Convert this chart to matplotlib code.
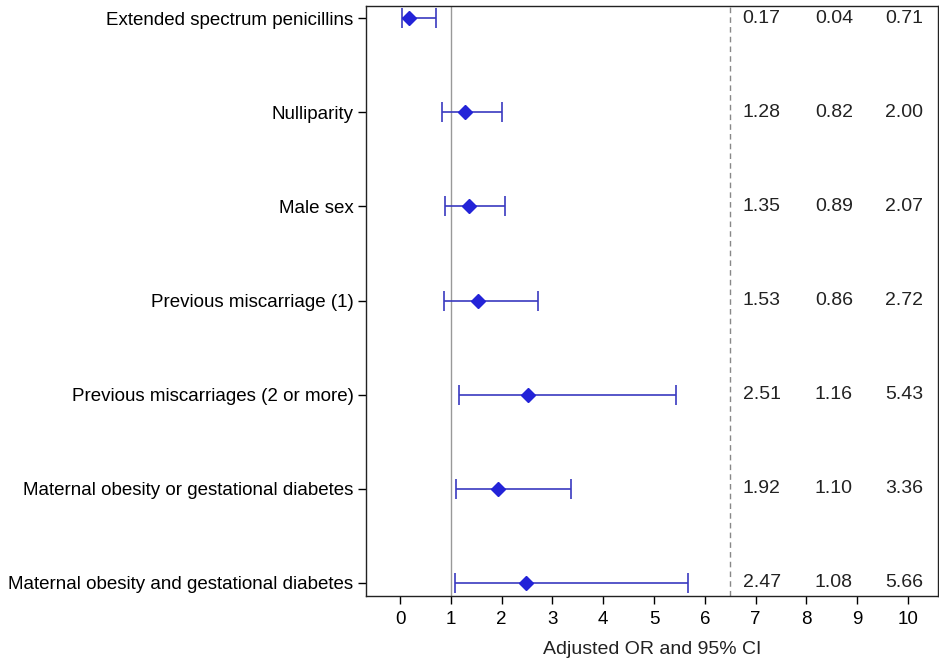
import matplotlib.pyplot as plt

plt.rcParams['font.family'] = ['Liberation Sans', 'DejaVu Sans']

labels = ["Extended spectrum penicillins", "Nulliparity", "Male sex",
          "Previous miscarriage (1)", "Previous miscarriages (2 or more)",
          "Maternal obesity or gestational diabetes",
          "Maternal obesity and gestational diabetes"]
odds = [0.17, 1.28, 1.35, 1.53, 2.51, 1.92, 2.47]
lower = [0.04, 0.82, 0.89, 0.86, 1.16, 1.10, 1.08]
upper = [0.71, 2.00, 2.07, 2.72, 5.43, 3.36, 5.66]

fig = plt.figure(figsize=(9.39, 6.66), dpi=100)
ax = fig.add_axes([0.3898, 0.105, 0.6091, 0.886])

ypos = list(range(len(labels)))
err = [[o - l for o, l in zip(odds, lower)], [u - o for o, u in zip(odds, upper)]]

ax.axvline(1, color="#999999", lw=1, zorder=1)
ax.axvline(6.5, color="#888888", lw=1, ls=(0, (4, 3)), zorder=1)

ax.errorbar(odds, ypos, xerr=err, fmt="none", ecolor="#3a3ac0", elinewidth=1.2,
            capsize=7, capthick=1.2, zorder=2)
ax.plot(odds, ypos, "D", color="#2323d8", ms=7.5, zorder=3)

cols = [7.12, 8.54, 9.92]
for i in ypos:
    for x, v in zip(cols, [odds[i], lower[i], upper[i]]):
        ax.text(x, i, f"{v:.2f}", ha="center", va="center", fontsize=14, color="#222222")

ax.set_xlim(-0.67, 10.59)
ax.set_ylim(6.14, -0.13)
ax.set_xticks(range(0, 11))
ax.set_yticks(ypos)
ax.set_yticklabels(labels, fontsize=13.5)
ax.tick_params(axis="x", labelsize=13.5, length=6, width=1, pad=5)
ax.tick_params(axis="y", length=6, width=1, pad=3)
for s in ax.spines.values():
    s.set_color("#222222")
    s.set_linewidth(1)
ax.set_xlabel("Adjusted OR and 95% CI", fontsize=14, labelpad=9, color="#222222")

fig.savefig("out.png", dpi=100)
